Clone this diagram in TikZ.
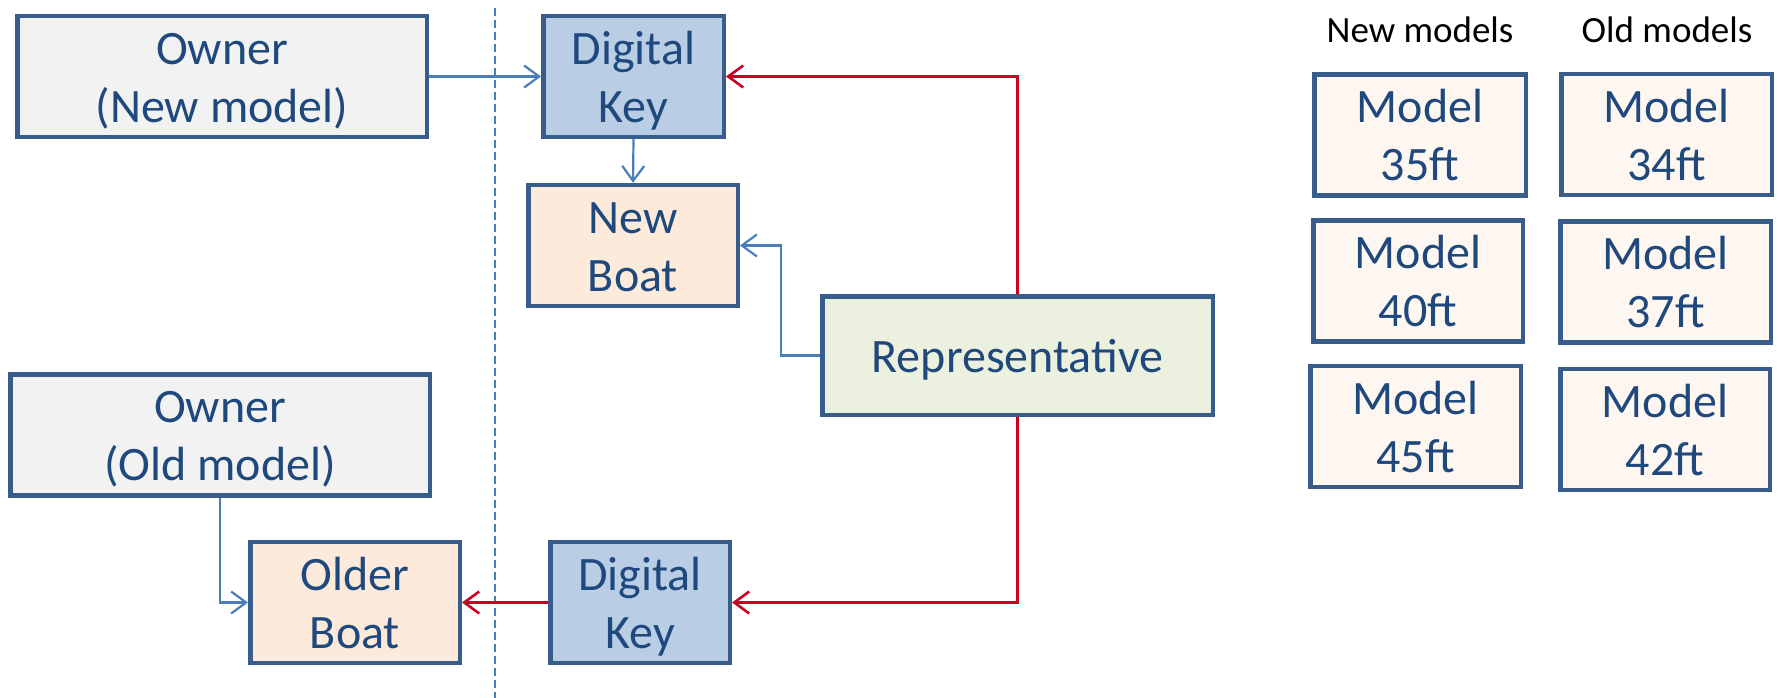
\documentclass[tikz,border=0pt]{standalone}
\usepackage{fontspec}
\setmainfont{Carlito}
\usetikzlibrary{arrows.meta}
\definecolor{txtblue}{HTML}{1F497D}
\definecolor{edgeblue}{HTML}{385D8A}
\definecolor{lineblue}{HTML}{4A7EBB}
\definecolor{linered}{HTML}{CC0020}
\definecolor{fillgray}{HTML}{F2F2F2}
\definecolor{fillkey}{HTML}{B9CDE5}
\definecolor{fillboat}{HTML}{FDEADA}
\definecolor{fillrep}{HTML}{EBF1DE}
\definecolor{fillmodel}{HTML}{FDF6F1}
\newcommand{\myTopStrut}{\rule{0pt}{48pt}}
\newcommand{\myBotStrut}{\rule[-15pt]{0pt}{15pt}}
\newcommand{\twolines}[2]{\myTopStrut #1\\#2\myBotStrut}
\begin{document}
\begin{tikzpicture}[x=1pt,y=-1pt,
  box/.style={draw=edgeblue, line width=4.5pt, rectangle, inner sep=0pt, align=center,
    text=txtblue, font=\fontsize{48}{58}\selectfont},
  bluearrow/.style={draw=lineblue, line width=2.2pt, -{Straight Barb[length=15pt,width=22pt,line width=2.2pt]}},
  redarrow/.style={draw=linered, line width=2.6pt, -{Straight Barb[length=15pt,width=22pt,line width=2.6pt]}},
  divider/.style={draw=lineblue, line width=2pt, dash pattern=on 8pt off 4pt},
  heading/.style={font=\fontsize{37}{44}\selectfont, text=black, anchor=base, inner sep=0pt}]
\useasboundingbox (0,0) rectangle (1779,698);

% divider
\coordinate (dtop) at (495,8);
\coordinate (dbot) at (495,698);
\draw[divider] (dtop) -- (dbot);

% main nodes
\node[box, fill=fillgray, minimum width=409.5pt, minimum height=118.5pt] (ownN) at (222,76.5) {\twolines{Owner}{(New model)}};
\node[box, fill=fillkey, minimum width=180.5pt, minimum height=118.5pt] (dkT) at (633.5,76.5) {\twolines{Digital}{Key}};
\node[box, fill=fillboat, minimum width=209.5pt, minimum height=118.5pt] (boatN) at (633,245.5) {\twolines{New}{Boat}};
\node[box, fill=fillrep, minimum width=390.5pt, minimum height=118.5pt] (rep) at (1017.5,355.5) {\myTopStrut Representative\myBotStrut};
\node[box, fill=fillgray, minimum width=419.5pt, minimum height=119.5pt] (ownO) at (220,435) {\twolines{Owner}{(Old model)}};
\node[box, fill=fillboat, minimum width=209.5pt, minimum height=118.5pt] (boatO) at (355,602.5) {\twolines{Older}{Boat}};
\node[box, fill=fillkey, minimum width=179.5pt, minimum height=118.5pt] (dkB) at (640,602.5) {\twolines{Digital}{Key}};

% model boxes
\node[heading] (hNew) at (1420,43) {New models};
\node[heading] (hOld) at (1667,43) {Old models};
\node[box, fill=fillmodel, minimum width=211.5pt, minimum height=119.5pt] (m35) at (1420,135) {\twolines{Model}{35ft}};
\node[box, fill=fillmodel, minimum width=209.5pt, minimum height=119.5pt] (m40) at (1418,281) {\twolines{Model}{40ft}};
\node[box, fill=fillmodel, minimum width=210.5pt, minimum height=118.5pt] (m45) at (1415.5,426.5) {\twolines{Model}{45ft}};
\node[box, fill=fillmodel, minimum width=210.5pt, minimum height=118.5pt] (m34) at (1666.5,134.5) {\twolines{Model}{34ft}};
\node[box, fill=fillmodel, minimum width=210.5pt, minimum height=117.5pt] (m37) at (1665.5,282) {\twolines{Model}{37ft}};
\node[box, fill=fillmodel, minimum width=209.5pt, minimum height=118.5pt] (m42) at (1665,429.5) {\twolines{Model}{42ft}};

% connectors
\draw[bluearrow] (ownN.east) -- (dkT.west);
\draw[bluearrow] (dkT.south) -- (boatN.north);
\draw[bluearrow] (rep.west) -- ++(-39,0) |- (boatN.east);
\draw[bluearrow] (ownO.south) |- (boatO.west);
\draw[redarrow] (rep.north) |- (dkT.east);
\draw[redarrow] (rep.south) |- (dkB.east);
\draw[redarrow] (dkB.west) -- (boatO.east);
\end{tikzpicture}
\end{document}
